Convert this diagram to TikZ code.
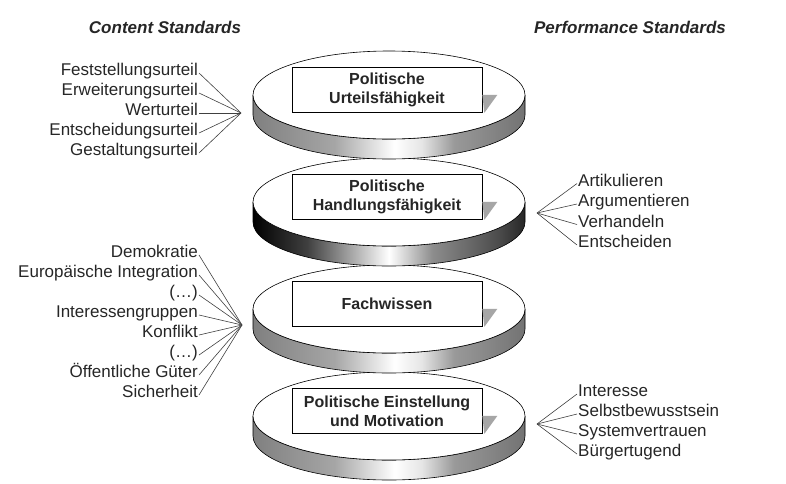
\documentclass[tikz,border=0pt]{standalone}
\usepackage{fontspec}
\setmainfont{Liberation Sans}
\usepackage{tikz}
\usetikzlibrary{calc,positioning}

% side bands of the discs (path box = 25bp..75bp)
\pgfdeclarehorizontalshading{sidelight}{100bp}{color(0bp)=(black!50); color(25bp)=(black!50); color(40bp)=(black!35); color(51bp)=(white); color(56bp)=(white!90!black); color(62bp)=(black!40); color(75bp)=(black!55); color(100bp)=(black!55)}
\pgfdeclarehorizontalshading{sidedark}{100bp}{color(0bp)=(black); color(25bp)=(black); color(35bp)=(black!75); color(50bp)=(white); color(58bp)=(black!45); color(70bp)=(black!70); color(75bp)=(black!85); color(100bp)=(black!85)}

\begin{document}
\begin{tikzpicture}[x=1pt,y=-1pt]
	\tikzset{
	    disc side/.style={shade, shading=#1, draw=black, line width=0.6pt},
	    disc top/.style={fill=white, draw=black, line width=0.6pt},
	    level box/.style={draw, fill=white, line width=0.7pt, minimum width=190pt, minimum height=45pt,
	        align=center, inner sep=2pt, font=\bfseries\fontsize{16}{19}\selectfont, text=black!85},
	    box shadow/.style={fill=black!35},
	    std label/.style={inner sep=1pt, font=\fontsize{17}{20}\selectfont, text=black!85},
	    fan line/.style={black!75, line width=0.6pt},
	    heading/.style={font=\bfseries\itshape\fontsize{17}{20}\selectfont, text=black!85}
	}
	\useasboundingbox (0,0) rectangle (786,483);
	% discs, lowest first
	\foreach \cy/\shd/\nm/\txt in {416/sidelight/motiv/{Politische Einstellung\\und Motivation},
	                               309/sidelight/wissen/{Fachwissen},
	                               202/sidedark/handeln/{Politische\\Handlungsfähigkeit},
	                               95/sidelight/urteil/{Politische\\Urteilsfähigkeit}}{
		\draw[disc side=\shd] (253,\cy) arc (180:0:136 and 44) -- ++(0,20) arc (0:180:136 and 44) -- cycle;
		\draw[disc top] (389,\cy) ellipse (136 and 44);
		\node[level box] (\nm) at (387,\cy-5) {\txt};
		\fill[box shadow] ([yshift=18pt]\nm.south east) -- ++(15,0) -- ([xshift=2pt]\nm.south east) -- cycle;
	}
	% headings
	\node[heading] (content) at (165,27) {Content Standards};
	\node[heading] (perf) at (630,27) {Performance Standards};
	% content standards, left
	\coordinate (fanU) at (241,113);
	\foreach \lbl [count=\i] in {Feststellungsurteil,Erweiterungsurteil,Werturteil,Entscheidungsurteil,Gestaltungsurteil}{
		\node[std label, anchor=mid east] (u\i) at (199,53+20*\i) {\lbl};
		\draw[fan line] (fanU) -- (u\i.mid east);
	}
	\coordinate (fanW) at (242,325);
	\foreach \lbl [count=\i] in {Demokratie,Europäische Integration,(\ldots),Interessengruppen,Konflikt,(\ldots),Öffentliche Güter,Sicherheit}{
		\node[std label, anchor=mid east] (w\i) at (199,235+20*\i) {\lbl};
		\draw[fan line] (fanW) -- (w\i.mid east);
	}
	% performance standards, right
	\coordinate (fanH) at (537,213);
	\foreach \lbl [count=\i] in {Artikulieren,Argumentieren,Verhandeln,Entscheiden}{
		\node[std label, anchor=mid west] (h\i) at (577,163+20.5*\i) {\lbl};
		\draw[fan line] (fanH) -- (h\i.mid west);
	}
	\coordinate (fanM) at (537,424);
	\foreach \lbl [count=\i] in {Interesse,Selbstbewusstsein,Systemvertrauen,Bürgertugend}{
		\node[std label, anchor=mid west] (m\i) at (577,374+20*\i) {\lbl};
		\draw[fan line] (fanM) -- (m\i.mid west);
	}
\end{tikzpicture}
\end{document}
